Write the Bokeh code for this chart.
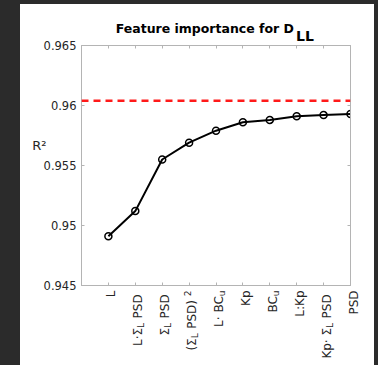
import math

from bokeh.core.properties import value
from bokeh.embed import file_html
from bokeh.layouts import column, row
from bokeh.models import (CustomJSTickFormatter, FixedTicker, LinearAxis,
                          Range1d, Span)
from bokeh.plotting import figure
from bokeh.resources import INLINE

# Features in the order they are added; each label is a list of text runs
# (normal text, subscript or superscript) so the math notation can be drawn.
feature_labels = [
    [("L", "n")],
    [("L·Σ", "n"), ("L", "sub"), (" PSD", "n")],
    [("Σ", "n"), ("L", "sub"), (" PSD", "n")],
    [("(Σ", "n"), ("L", "sub"), (" PSD)", "n"), ("2", "sup")],
    [("L· BC", "n"), ("u", "sub")],
    [("Kp", "n")],
    [("BC", "n"), ("u", "sub")],
    [("L:Kp", "n")],
    [("Kp· Σ", "n"), ("L", "sub"), (" PSD", "n")],
    [("PSD", "n")],
]

# Cumulative R^2 after each feature is added
r2_values = [0.9491, 0.9512, 0.9555, 0.9569, 0.9579,
             0.9586, 0.9588, 0.9591, 0.9592, 0.9593]

# R^2 of the model with every feature
full_model_r2 = 0.9604

y_ticks = [0.945, 0.95, 0.955, 0.96, 0.965]
y_tick_labels = ["0.945", "0.95", "0.955", "0.96", "0.965"]

title_main = "Feature importance for D"
title_sub = "LL"
y_label = "R²"

x_positions = list(range(1, len(feature_labels) + 1))

FONT = "DejaVu Sans"
AXIS_GREY = "#b4b4b4"
TEXT_GREY = "#262626"

# Panel geometry in pixels (relative to the white panel)
SIDE_W = 60              # strip carrying the y tick labels and y label
RIGHT_W = 294            # everything right of it
FRAME_W = 269            # plot frame width
FRAME_H = 240            # plot frame height
TITLE_H = 40
MAIN_H = FRAME_H + 2
LABELS_H = 79
FRAME_TOP = TITLE_H + 1  # frame top measured from the panel top
EDGE = 1                 # border kept around the helper strips

x_lo, x_hi = 0, len(feature_labels)
y_lo, y_hi = y_ticks[0], y_ticks[-1]
ppu_x = FRAME_W / (x_hi - x_lo)
ppu_y = FRAME_H / (y_hi - y_lo)
# helper strips start their frame at the plot's left edge and run further right
wide_x = Range1d(x_lo, x_lo + (RIGHT_W - 2 * EDGE) / ppu_x)

# Approximate DejaVu Sans advance widths (em units) used to stack text runs
GLYPH_WIDTH = {
    "L": 0.557, "·": 0.48, "Σ": 0.632, " ": 0.318, "P": 0.603, "S": 0.635,
    "D": 0.770, "(": 0.390, ")": 0.390, "2": 0.636, "B": 0.686, "C": 0.698,
    "u": 0.634, "K": 0.656, "p": 0.635, ":": 0.337,
}
SUB_TRAIL = 4.5          # extra room after a subscript inside a label


def run_width(text, size):
    return sum(GLYPH_WIDTH.get(ch, 0.6) for ch in text) * size


def bare_figure(**kw):
    f = figure(output_backend="svg", toolbar_location=None,
               x_axis_location=None, y_axis_location=None,
               min_border=EDGE, min_border_left=EDGE, min_border_right=EDGE,
               min_border_top=EDGE, min_border_bottom=EDGE,
               background_fill_color="white", border_fill_color="white",
               **kw)
    f.outline_line_color = None
    f.xgrid.visible = False
    f.ygrid.visible = False
    return f


# ---- main plot ----
y_range = Range1d(y_lo, y_hi)
p = figure(width=RIGHT_W, height=MAIN_H,
           x_range=Range1d(x_lo, x_hi), y_range=y_range,
           x_axis_location=None, y_axis_location=None,
           output_backend="svg", toolbar_location=None,
           min_border_left=1, min_border_right=RIGHT_W - 1 - FRAME_W,
           min_border_top=1, min_border_bottom=1,
           background_fill_color="white", border_fill_color="white")
p.outline_line_color = AXIS_GREY
p.xgrid.visible = False
p.ygrid.visible = False


def blank_axis(ticks):
    ax = LinearAxis(formatter=CustomJSTickFormatter(code="return ''"))
    ax.ticker = FixedTicker(ticks=ticks)
    ax.axis_line_color = AXIS_GREY
    ax.major_tick_line_color = AXIS_GREY
    ax.major_tick_in = 3
    ax.major_tick_out = 0
    ax.minor_tick_line_color = None
    ax.major_label_text_font_size = "0px"
    ax.major_label_standoff = 0
    return ax


p.add_layout(blank_axis(y_ticks), "left")
p.add_layout(blank_axis(y_ticks), "right")
p.add_layout(blank_axis(x_positions), "below")
p.add_layout(blank_axis(x_positions), "above")

# Reference level of the full model
p.add_layout(Span(location=full_model_r2, dimension="width",
                  line_color="#ff1a1a", line_width=2.5, line_dash="7 5"))

p.line(x_positions, r2_values, line_color="black", line_width=2)
p.scatter(x_positions, r2_values, marker="circle", size=7,
          fill_color=None, line_color="black", line_width=1.5)

# ---- y axis strip: same scale as the plot, frame running from the panel top
# down to the plot's lower edge ----
side = figure(width=SIDE_W, height=FRAME_TOP + FRAME_H + 14,
              x_range=Range1d(0, 1),
              y_range=Range1d(y_lo, y_hi + FRAME_TOP / ppu_y),
              x_axis_location=None, y_axis_location=None,
              output_backend="svg", toolbar_location=None,
              min_border_left=SIDE_W - 1, min_border_right=0,
              min_border_top=0, min_border_bottom=14,
              background_fill_color="white", border_fill_color="white")
side.outline_line_color = None
side.xgrid.visible = False
side.ygrid.visible = False
y_axis = LinearAxis(ticker=FixedTicker(ticks=y_ticks))
y_axis.major_label_overrides = dict(zip(y_ticks, y_tick_labels))
y_axis.axis_line_color = None
y_axis.major_tick_line_color = None
y_axis.minor_tick_line_color = None
y_axis.major_tick_in = 0
y_axis.major_tick_out = 0
y_axis.major_label_standoff = 3
y_axis.major_label_text_font = FONT
y_axis.major_label_text_font_size = "11.5px"
y_axis.major_label_text_color = TEXT_GREY
y_axis.axis_label = y_label
y_axis.axis_label_orientation = "horizontal"
y_axis.axis_label_standoff = -6
y_axis.axis_label_text_font = FONT
y_axis.axis_label_text_font_size = "13px"
y_axis.axis_label_text_font_style = "normal"
y_axis.axis_label_text_color = TEXT_GREY
side.add_layout(y_axis, "left")

# Text glyphs sit a few pixels below their nominal alphabetic baseline
BASELINE_FIX = 4

# ---- title strip ----
title_fig = bare_figure(width=RIGHT_W, height=TITLE_H, x_range=wide_x,
                        y_range=Range1d(0, 1))
mid = (x_lo + x_hi) / 2
title_fig.text(x=[mid], y=[0], text=[title_main], x_offset=78,
               y_offset=-11 - BASELINE_FIX,
               text_align="right", text_baseline="alphabetic",
               text_font=value(FONT), text_font_size="12.5px",
               text_font_style="bold", text_color="black")
title_fig.text(x=[mid], y=[0], text=[title_sub], x_offset=80,
               y_offset=-4 - BASELINE_FIX,
               text_align="left", text_baseline="alphabetic",
               text_font=value(FONT), text_font_size="14px",
               text_font_style="bold", text_color="black")

# ---- rotated feature names, stacked run by run from the axis downwards ----
labels_fig = bare_figure(width=RIGHT_W, height=LABELS_H, x_range=wide_x,
                         y_range=Range1d(0, 1))
NORMAL_SIZE = 12
SCRIPT_SIZE = 9
GAP = 3
run_x, run_text, run_size, run_dx, run_dy = [], [], [], [], []
for xpos, runs in zip(x_positions, feature_labels):
    acc = 0.0
    for i in range(len(runs) - 1, -1, -1):
        text, kind = runs[i]
        size = NORMAL_SIZE if kind == "n" else SCRIPT_SIZE
        if kind == "sub" and i < len(runs) - 1:
            acc += SUB_TRAIL
        run_x.append(xpos)
        run_text.append(text)
        run_size.append(f"{size}px")
        run_dx.append({"n": 6, "sub": 9, "sup": 1}[kind] - BASELINE_FIX + 1)
        run_dy.append(GAP + acc)
        acc += run_width(text, size)

labels_fig.text(x=run_x, y=[1] * len(run_x), text=run_text,
                x_offset=run_dx, y_offset=run_dy, angle=math.pi / 2,
                text_align="right", text_baseline="alphabetic",
                text_font=value(FONT), text_font_size=run_size,
                text_color=TEXT_GREY)

# the plot sits in its own row so the strips above and below keep their frames
right_col = column(title_fig, row(p, spacing=0), labels_fig, spacing=0)
layout = row(side, right_col, spacing=0, margin=(4, 4, 0, 20),
             styles={"background-color": "white"})

html = file_html(layout, INLINE, title="Feature importance")
html = html.replace("</head>",
                    "<style>body { background: #2b2b2b; }</style></head>", 1)
open("out.html", "w").write(html)
